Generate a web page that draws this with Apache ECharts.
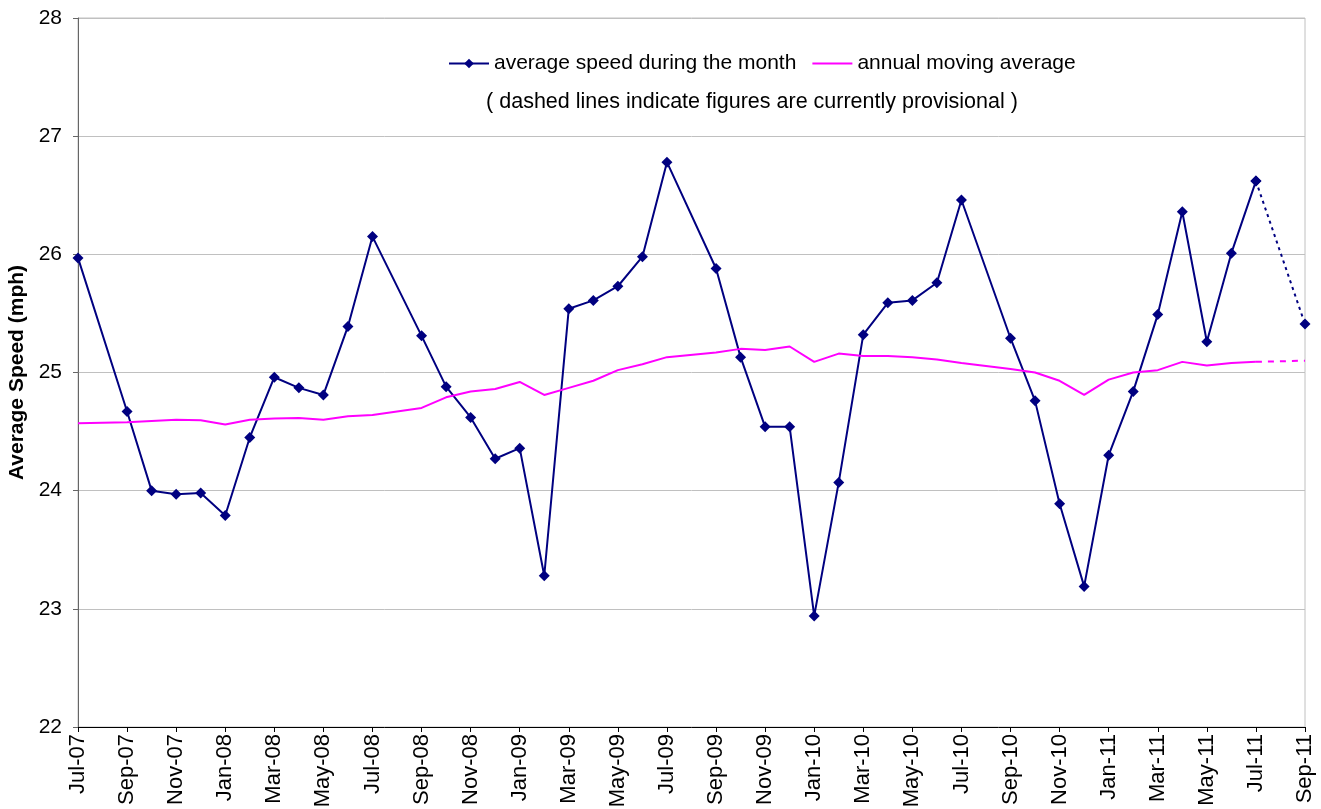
<!DOCTYPE html>
<html>
<head>
    <meta charset="utf-8">
    <title>Average speed</title>
    <script src="https://cdn.jsdelivr.net/npm/echarts@6/dist/echarts.min.js"></script>
</head>
<body style="margin:0">
    <div id="main" style="width: 1321px;height:809px;"></div>
    <script type="text/javascript">
        // months on the x axis (no survey in August, so those values are null)
        var months = ['Jul-07','Aug-07','Sep-07','Oct-07','Nov-07','Dec-07',
            'Jan-08','Feb-08','Mar-08','Apr-08','May-08','Jun-08','Jul-08','Aug-08','Sep-08','Oct-08','Nov-08','Dec-08',
            'Jan-09','Feb-09','Mar-09','Apr-09','May-09','Jun-09','Jul-09','Aug-09','Sep-09','Oct-09','Nov-09','Dec-09',
            'Jan-10','Feb-10','Mar-10','Apr-10','May-10','Jun-10','Jul-10','Aug-10','Sep-10','Oct-10','Nov-10','Dec-10',
            'Jan-11','Feb-11','Mar-11','Apr-11','May-11','Jun-11','Jul-11','Aug-11','Sep-11'];
        var speed = [25.97, null, 24.67, 24.00, 23.97, 23.98,
            23.79, 24.45, 24.96, 24.87, 24.81, 25.39, 26.15, null, 25.31, 24.88, 24.62, 24.27,
            24.36, 23.28, 25.54, 25.61, 25.73, 25.98, 26.78, null, 25.88, 25.13, 24.54, 24.54,
            22.94, 24.07, 25.32, 25.59, 25.61, 25.76, 26.46, null, 25.29, 24.76, 23.89, 23.19,
            24.30, 24.84, 25.49, 26.36, 25.26, 26.01, 26.62, null, 25.41];
        var movingAvg = [24.57, null, 24.58, 24.59, 24.60, 24.595,
            24.56, 24.60, 24.61, 24.615, 24.60, 24.63, 24.64, null, 24.70, 24.79, 24.84, 24.86,
            24.92, 24.81, 24.87, 24.93, 25.02, 25.07, 25.13, null, 25.17, 25.20, 25.19, 25.22,
            25.09, 25.16, 25.14, 25.14, 25.13, 25.11, 25.08, null, 25.03, 25.00, 24.93, 24.81,
            24.94, 25.00, 25.02, 25.09, 25.06, 25.08, 25.09, null, 25.10];
        // first provisional month and the last confirmed one
        var provisionalFrom = 50;
        var lastConfirmed = 48;

        function solidPart(arr) {
            return arr.map(function (v, i) { return i < provisionalFrom ? v : null; });
        }
        function dashedPart(arr) {
            return arr.map(function (v, i) { return (i === lastConfirmed || i >= provisionalFrom) ? v : null; });
        }

        var font = 'Liberation Sans, Arial, sans-serif';
        var chart = echarts.init(document.getElementById('main'));
        var option = {
            animation: false,
            textStyle: { fontFamily: font },
            grid: {
                left: 78, right: 16, top: 18, bottom: 82,
                outerBoundsMode: 'none',
                show: true, borderColor: '#c0c0c0', borderWidth: 1
            },
            legend: {
                left: 443, top: 48,
                itemWidth: 40, itemHeight: 12, itemGap: 16,
                textStyle: { fontSize: 21, color: '#000' },
                data: [
                    { name: 'average speed during the month' },
                    { name: 'annual moving average', icon: 'path://M0,0 L40,0 L40,2 L0,2 Z', itemStyle: { color: '#ff00ff' } }
                ]
            },
            graphic: [{
                type: 'text', x: 752, y: 102,
                style: {
                    text: '( dashed lines indicate figures are currently provisional )',
                    fontSize: 21.5, fill: '#000', fontFamily: font,
                    align: 'center', verticalAlign: 'middle'
                }
            }],
            xAxis: {
                type: 'category',
                boundaryGap: false,
                data: months,
                axisLine: { lineStyle: { color: '#000' } },
                axisTick: { interval: 1, lineStyle: { color: '#000' } },
                axisLabel: { interval: 1, rotate: 90, fontSize: 22, color: '#000', margin: 7 }
            },
            yAxis: {
                type: 'value',
                min: 22, max: 28, interval: 1,
                name: 'Average Speed (mph)',
                nameLocation: 'middle',
                nameGap: 50,
                nameTextStyle: { fontSize: 21, fontWeight: 'bold', color: '#000' },
                axisLine: { show: true, lineStyle: { color: '#666' } },
                axisTick: { show: true, lineStyle: { color: '#666' } },
                axisLabel: { fontSize: 21, color: '#000', margin: 16 },
                splitLine: { lineStyle: { color: '#c0c0c0' } }
            },
            series: [
                {
                    name: 'average speed during the month',
                    type: 'line',
                    data: solidPart(speed),
                    connectNulls: true,
                    symbol: 'diamond', symbolSize: 11,
                    itemStyle: { color: '#000080' },
                    lineStyle: { color: '#000080', width: 2 },
                    z: 3
                },
                {
                    name: 'speed provisional',
                    type: 'line',
                    data: dashedPart(speed),
                    connectNulls: true,
                    symbol: 'diamond', symbolSize: 11,
                    itemStyle: { color: '#000080' },
                    lineStyle: { color: '#000080', width: 2, type: [3, 4] },
                    z: 3
                },
                {
                    name: 'annual moving average',
                    type: 'line',
                    data: solidPart(movingAvg),
                    connectNulls: true,
                    showSymbol: false, symbol: 'none',
                    itemStyle: { color: '#ff00ff' },
                    lineStyle: { color: '#ff00ff', width: 2 }
                },
                {
                    name: 'average provisional',
                    type: 'line',
                    data: dashedPart(movingAvg),
                    connectNulls: true,
                    symbol: 'none',
                    lineStyle: { color: '#ff00ff', width: 2, type: [6, 6] }
                }
            ]
        };
        chart.setOption(option);
    </script>
</body>
</html>
